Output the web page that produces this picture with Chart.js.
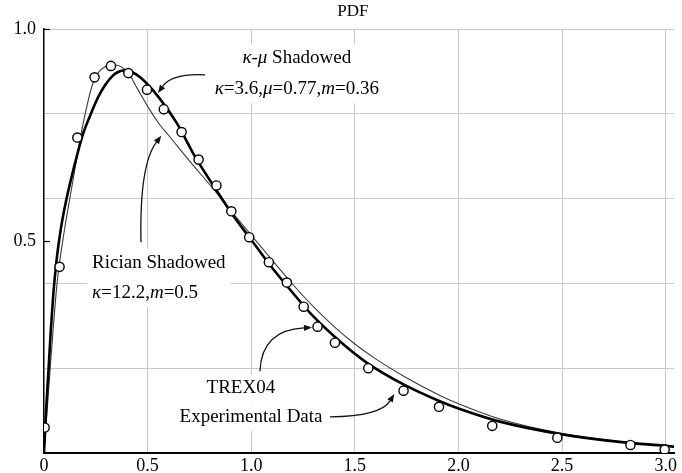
<!DOCTYPE html>
<html><head><meta charset="utf-8">
<script src="https://cdn.jsdelivr.net/npm/chart.js@4"></script>
<style>html,body{margin:0;padding:0;background:#fff}canvas{display:block}</style>
</head><body>
<canvas id="c" width="682" height="473"></canvas>
<script>
// TREX04 experimental data (circles)
const expX = [0.003, 0.075, 0.161, 0.244, 0.323, 0.407, 0.497, 0.578, 0.664, 0.746, 0.832, 0.904, 0.99, 1.085, 1.172, 1.253, 1.32, 1.404, 1.565, 1.735, 1.906, 2.163, 2.477, 2.83, 2.995];
const expY = [0.06, 0.439, 0.744, 0.886, 0.913, 0.896, 0.857, 0.811, 0.757, 0.692, 0.631, 0.57, 0.509, 0.45, 0.402, 0.345, 0.298, 0.26, 0.2, 0.147, 0.109, 0.064, 0.036, 0.019, 0.008];
// kappa-mu shadowed fit (thick)
const kmX = [0, 0.01, 0.021, 0.033, 0.045, 0.06, 0.08, 0.109, 0.161, 0.19, 0.222, 0.26, 0.295, 0.33, 0.355, 0.38, 0.42, 0.464, 0.552, 0.641, 0.729, 0.834, 0.91, 1.0, 1.08, 1.2, 1.3, 1.44, 1.56, 1.73, 1.91, 2.0, 2.2, 2.5, 2.8, 3.0, 3.04];
const kmY = [0, 0.1, 0.19, 0.29, 0.375, 0.452, 0.525, 0.6, 0.705, 0.755, 0.795, 0.838, 0.868, 0.889, 0.898, 0.902, 0.899, 0.886, 0.84, 0.778, 0.699, 0.618, 0.562, 0.503, 0.45, 0.378, 0.322, 0.258, 0.212, 0.163, 0.122, 0.105, 0.074, 0.044, 0.025, 0.017, 0.015];
// Rician shadowed fit (thin)
const rsX = [0, 0.03, 0.063, 0.1, 0.13, 0.165, 0.19, 0.238, 0.295, 0.343, 0.407, 0.45, 0.512, 0.556, 0.6, 0.7, 0.818, 0.9, 1.0, 1.092, 1.2, 1.3, 1.4, 1.5, 1.6, 1.736, 1.913, 2.0, 2.2, 2.5, 2.8, 3.0, 3.04];
const rsY = [0, 0.2, 0.4, 0.53, 0.615, 0.715, 0.78, 0.875, 0.911, 0.915, 0.896, 0.86, 0.808, 0.776, 0.75, 0.69, 0.622, 0.572, 0.514, 0.46, 0.398, 0.345, 0.298, 0.257, 0.222, 0.181, 0.135, 0.116, 0.08, 0.046, 0.026, 0.018, 0.016];

const xTicks = [0, 0.5, 1, 1.5, 2, 2.5, 3];
const xTickLabels = ['0', '0.5', '1.0', '1.5', '2.0', '2.5', '3.0'];
const yTicks = [0, 0.2, 0.4, 0.5, 0.6, 0.8, 1.0];
const yTickLabels = ['', '', '', '0.5', '', '', '1.0'];
const yGrid = [0.2, 0.4, 0.6, 0.8, 1.0];

const pts = (xs, ys) => xs.map((x, i) => ({x: x, y: ys[i]}));
const FONT = '"Liberation Serif", "Times New Roman", serif';
const GRID = '#c8c8c8';

// annotation layout (data coordinates)
const labels = [
  {lines: [[['κ', 1], ['-', 0], ['μ', 1], [' Shadowed', 0]],
           [['κ', 1], ['=3.6,', 0], ['μ', 1], ['=0.77,', 0], ['m', 1], ['=0.36', 0]]],
   x: 1.22, y: [0.932, 0.858]},
  {lines: [[['Rician Shadowed', 0]],
           [['κ', 1], ['=12.2,', 0], ['m', 1], ['=0.5', 0]]],
   x: 0.55, y: [0.448, 0.377], align: 'left', left: 0.232},
  {lines: [[['TREX04', 0]]], x: 0.95, y: [0.153]},
  {lines: [[['Experimental Data', 0]]], x: 0.999, y: [0.085]}
];
const arrows = [
  {p0: [0.777, 0.892], c: [0.617, 0.896], p1: [0.55, 0.849]},
  {p0: [0.468, 0.497], c: [0.46, 0.68], p1: [0.566, 0.748]},
  {p0: [1.042, 0.193], c: [1.05, 0.29], p1: [1.293, 0.296]},
  {p0: [1.38, 0.085], c: [1.625, 0.087], p1: [1.69, 0.139]}
];

function runsWidth(ctx, runs, size) {
  let w = 0;
  for (const [t, it] of runs) { ctx.font = (it ? 'italic ' : '') + size + 'px ' + FONT; w += ctx.measureText(t).width; }
  return w;
}
function drawRuns(ctx, runs, x, y, size) {
  for (const [t, it] of runs) {
    ctx.font = (it ? 'italic ' : '') + size + 'px ' + FONT;
    ctx.fillText(t, x, y);
    x += ctx.measureText(t).width;
  }
}

const annot = {
  id: 'annot',
  beforeDatasetsDraw(chart) {
    const ctx = chart.ctx, sx = chart.scales.x, sy = chart.scales.y;
    const size = 19;
    ctx.save();
    ctx.textBaseline = 'middle';
    ctx.textAlign = 'left';
    for (const L of labels) {
      const ws = L.lines.map(r => runsWidth(ctx, r, size));
      const ys = L.y.map(v => sy.getPixelForValue(v));
      const cx = sx.getPixelForValue(L.x);
      const w = Math.max(...ws);
      const x0 = L.align === 'left' ? sx.getPixelForValue(L.left) : cx - w / 2;
      ctx.fillStyle = '#fff';
      ctx.fillRect(x0 - 5, Math.min(...ys) - 14, w + 10, Math.max(...ys) - Math.min(...ys) + 28);
      ctx.fillStyle = '#000';
      L.lines.forEach((r, i) => {
        const lx = L.align === 'left' ? x0 : cx - ws[i] / 2;
        drawRuns(ctx, r, lx, ys[i], size);
      });
    }
    // small inner ticks on y axis
    ctx.strokeStyle = '#000';
    ctx.lineWidth = 1.2;
    for (const v of [0.5, 1.0]) {
      const py = Math.round(sy.getPixelForValue(v)) + 0.5;
      ctx.beginPath(); ctx.moveTo(sx.left, py); ctx.lineTo(sx.left + 6, py); ctx.stroke();
    }
    // title
    ctx.fillStyle = '#000';
    ctx.font = '17px ' + FONT;
    ctx.textAlign = 'center';
    ctx.fillText('PDF', sx.getPixelForValue(1.49), 12);
    ctx.restore();
  },
  afterDatasetsDraw(chart) {
    const ctx = chart.ctx, sx = chart.scales.x, sy = chart.scales.y;
    const P = p => [sx.getPixelForValue(p[0]), sy.getPixelForValue(p[1])];
    ctx.save();
    ctx.strokeStyle = '#111';
    ctx.fillStyle = '#111';
    ctx.lineWidth = 1.3;
    for (const a of arrows) {
      const p0 = P(a.p0), c = P(a.c), p1 = P(a.p1);
      const ang = Math.atan2(p1[1] - c[1], p1[0] - c[0]);
      const L = 8, hw = 3.2;
      const bx = p1[0] - L * Math.cos(ang), by = p1[1] - L * Math.sin(ang);
      ctx.beginPath(); ctx.moveTo(p0[0], p0[1]); ctx.quadraticCurveTo(c[0], c[1], bx, by); ctx.stroke();
      ctx.beginPath();
      ctx.moveTo(p1[0], p1[1]);
      ctx.lineTo(bx + hw * Math.sin(ang), by - hw * Math.cos(ang));
      ctx.lineTo(bx - hw * Math.sin(ang), by + hw * Math.cos(ang));
      ctx.closePath(); ctx.fill();
    }
    ctx.restore();
  }
};

new Chart(document.getElementById('c'), {
  type: 'scatter',
  data: {datasets: [
    {label: 'TREX04 Experimental Data', data: pts(expX, expY), showLine: false,
     pointRadius: 4.6, pointBorderWidth: 1.4, pointBorderColor: '#000', pointBackgroundColor: '#fff', order: 0},
    {label: 'κ-μ Shadowed', data: pts(kmX, kmY), showLine: true, borderColor: '#000', borderWidth: 2.6,
     pointRadius: 0, cubicInterpolationMode: 'monotone', order: 1},
    {label: 'Rician Shadowed', data: pts(rsX, rsY), showLine: true, borderColor: '#3a3a3a', borderWidth: 1.1,
     pointRadius: 0, cubicInterpolationMode: 'monotone', order: 2}
  ]},
  options: {
    responsive: false, animation: false, devicePixelRatio: 1,
    layout: {padding: {top: 29, right: 8, left: 0, bottom: 0}},
    plugins: {legend: {display: false}, tooltip: {enabled: false}, title: {display: false}},
    scales: {
      x: {
        type: 'linear', min: 0, max: 3.04,
        afterBuildTicks: s => { s.ticks = xTicks.map(v => ({value: v})); },
        afterFit: s => { s.height = 20; },
        ticks: {callback: v => xTickLabels[xTicks.indexOf(v)], color: '#000', padding: 2,
                font: {family: FONT, size: 18}, maxRotation: 0, autoSkip: false},
        grid: {color: c => (c.tick && c.tick.value > 0) ? GRID : 'rgba(0,0,0,0)', drawTicks: false, lineWidth: 1},
        border: {display: true, color: '#000', width: 2}
      },
      y: {
        type: 'linear', min: 0, max: 1.0,
        afterBuildTicks: s => { s.ticks = yTicks.map(v => ({value: v})); },
        afterFit: s => { s.width = 44; },
        ticks: {callback: v => yTickLabels[yTicks.indexOf(v)], color: '#000', padding: 8,
                font: {family: FONT, size: 18}, autoSkip: false},
        grid: {color: c => (c.tick && yGrid.includes(c.tick.value)) ? GRID : 'rgba(0,0,0,0)', drawTicks: false, lineWidth: 1},
        border: {display: true, color: '#000', width: 1.5}
      }
    }
  },
  plugins: [annot]
});
</script>
</body></html>
